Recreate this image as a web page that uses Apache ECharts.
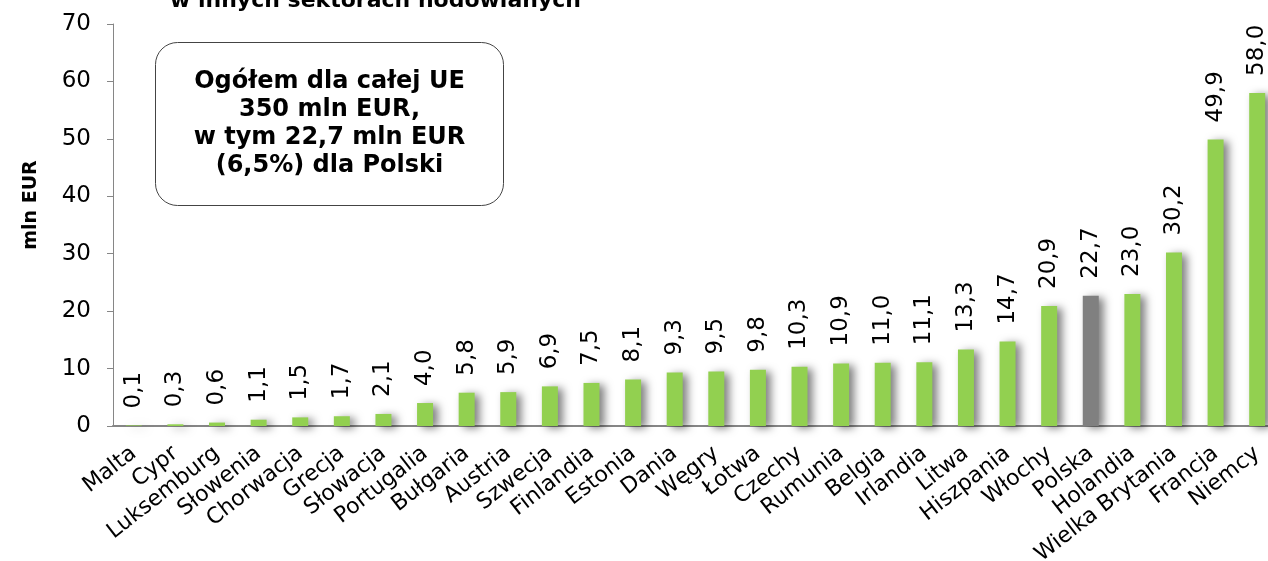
<!DOCTYPE html>
<html>
<head>
<meta charset="utf-8">
<script src="https://cdn.jsdelivr.net/npm/echarts@6/dist/echarts.min.js"></script>
<style>
  html, body { margin: 0; padding: 0; background: #fff; }
  #chart { width: 1268px; height: 561px; }
</style>
</head>
<body>
<div id="chart"></div>
<script>
// kraje i kwoty (mln EUR)
var countries = ["Malta", "Cypr", "Luksemburg", "Słowenia", "Chorwacja", "Grecja", "Słowacja", "Portugalia",
  "Bułgaria", "Austria", "Szwecja", "Finlandia", "Estonia", "Dania", "Węgry", "Łotwa", "Czechy", "Rumunia",
  "Belgia", "Irlandia", "Litwa", "Hiszpania", "Włochy", "Polska", "Holandia", "Wielka Brytania", "Francja", "Niemcy"];
var amounts = [0.1, 0.3, 0.6, 1.1, 1.5, 1.7, 2.1, 4.0, 5.8, 5.9, 6.9, 7.5, 8.1, 9.3, 9.5, 9.8, 10.3, 10.9,
  11.0, 11.1, 13.3, 14.7, 20.9, 22.7, 23.0, 30.2, 49.9, 58.0];
var yTicks = [0, 10, 20, 30, 40, 50, 60, 70];
var highlight = "Polska";
var boxLines = ["Ogółem dla całej UE", "350 mln EUR,", "w tym 22,7 mln EUR", "(6,5%) dla Polski"];

var font = "DejaVu Sans, Verdana, sans-serif";
var chart = echarts.init(document.getElementById("chart"));

var option = {
  animation: false,
  title: {
    text: "w innych sektorach hodowlanych",
    left: 165,
    top: -15,
    textStyle: { fontFamily: font, fontSize: 22, fontWeight: "bold", color: "#000" }
  },
  // wykres jest przycięty z prawej, więc siatka wychodzi poza kadr
  grid: { left: 113, width: 1165, top: 24, bottom: 135, outerBoundsMode: "none", containLabel: false },
  xAxis: {
    type: "category",
    data: countries,
    axisLine: { lineStyle: { color: "#868686", width: 2 } },
    axisTick: { show: false },
    axisLabel: {
      interval: 0,
      rotate: 38,
      margin: 25,
      fontFamily: font,
      fontSize: 22,
      color: "#000"
    }
  },
  yAxis: {
    type: "value",
    min: yTicks[0],
    max: yTicks[yTicks.length - 1],
    interval: 10,
    name: "mln EUR",
    nameLocation: "middle",
    nameGap: 72,
    nameTextStyle: { fontFamily: font, fontSize: 19, fontWeight: "bold", color: "#000", padding: [0, 0, 0, 40] },
    axisLine: { show: true, lineStyle: { color: "#868686", width: 1 } },
    axisTick: { show: true, length: 6, lineStyle: { color: "#868686" } },
    splitLine: { show: false },
    axisLabel: { fontFamily: font, fontSize: 23, color: "#000", margin: 22 }
  },
  series: [{
    type: "bar",
    barWidth: 16,
    data: amounts.map(function (v, i) {
      return {
        value: v,
        itemStyle: { color: countries[i] === highlight ? "#808080" : "#92D050" }
      };
    }),
    itemStyle: {
      shadowColor: "rgba(0,0,0,0.5)",
      shadowBlur: 8,
      shadowOffsetX: 5,
      shadowOffsetY: 2
    },
    label: {
      show: true,
      position: "top",
      rotate: 90,
      align: "left",
      verticalAlign: "middle",
      distance: 17,
      fontFamily: font,
      fontSize: 23,
      color: "#000",
      formatter: function (p) { return p.value.toFixed(1).replace(".", ","); }
    }
  }],
  graphic: [{
    type: "group",
    left: 155,
    top: 42,
    children: [{
      type: "rect",
      shape: { x: 0, y: 0, width: 348, height: 163, r: 22 },
      style: { fill: "#fff", stroke: "#444", lineWidth: 1 }
    }, {
      type: "text",
      x: 174,
      y: 81,
      style: {
        text: boxLines.join("\n"),
        align: "center",
        verticalAlign: "middle",
        lineHeight: 28,
        font: "bold 24px " + font,
        fill: "#000"
      }
    }]
  }]
};

chart.setOption(option);
</script>
</body>
</html>
